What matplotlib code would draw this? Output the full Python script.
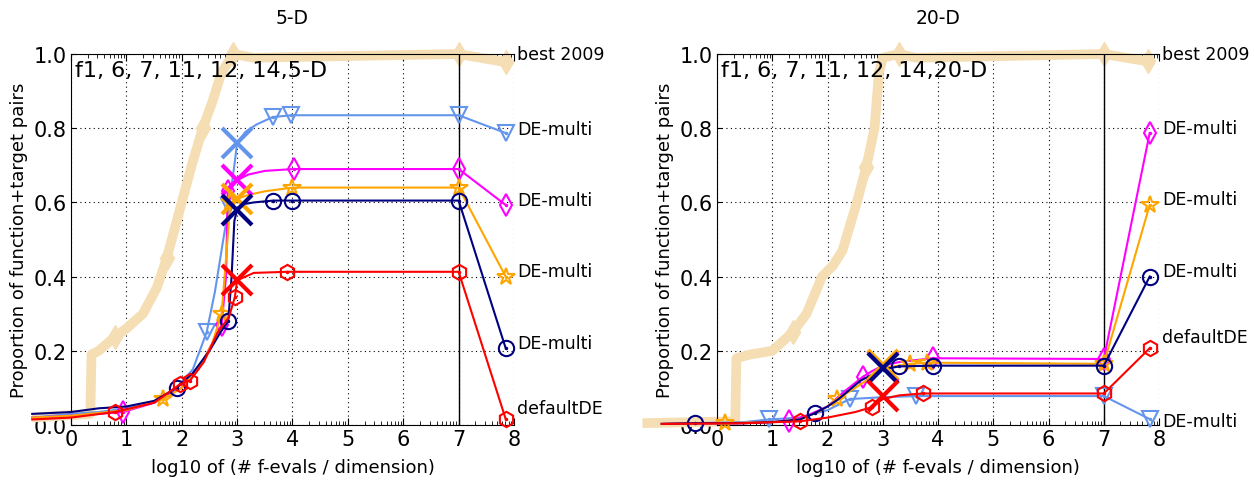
import numpy as np
import matplotlib
matplotlib.use('Agg')
import matplotlib.pyplot as plt

# series order: best 2009, then the four DE-multi variants, then defaultDE
names = ['best 2009', 'DE-multi', 'DE-multi', 'DE-multi', 'DE-multi', 'defaultDE']
colors = ['wheat', 'cornflowerblue', 'magenta', 'orange', 'navy', 'red']
markers = ['d', 'v', 'd', '*', 'o', 'h']

# ---- 5-D ----
best5_x = [-0.7, 0.35, 0.37, 0.5, 0.79, 1.0, 1.3, 1.55, 1.73, 2.0, 2.18, 2.38, 2.55, 2.72, 2.93, 3.3, 7.0, 7.85]
best5_y = [0.02, 0.03, 0.19, 0.2, 0.237, 0.26, 0.3, 0.37, 0.45, 0.6, 0.7, 0.8, 0.87, 0.95, 1.0, 0.99, 1.0, 0.978]
best5_m = [4, 8, 11, 14, 16, 17]

blue5_x = [-0.7, 0.0, 0.5, 1.0, 1.5, 1.9, 2.2, 2.45, 2.6, 2.75, 2.85, 2.95, 3.0, 3.15, 3.35, 3.64, 3.98, 7.0, 7.85]
blue5_y = [0.02, 0.03, 0.035, 0.045, 0.06, 0.1, 0.15, 0.25, 0.36, 0.5, 0.59, 0.7, 0.76, 0.79, 0.81, 0.83, 0.835, 0.835, 0.787]
blue5_m = [7, 10, 15, 16, 17, 18]

mag5_x = [-0.7, 0.0, 0.94, 1.5, 2.0, 2.3, 2.55, 2.72, 2.8, 2.83, 2.9, 3.0, 3.2, 3.5, 4.02, 7.0, 7.85]
mag5_y = [0.02, 0.025, 0.035, 0.06, 0.1, 0.15, 0.22, 0.27, 0.4, 0.63, 0.64, 0.66, 0.675, 0.685, 0.69, 0.69, 0.593]
mag5_m = [2, 7, 9, 14, 15, 16]

orng5_x = [-0.7, 0.0, 1.0, 1.67, 2.0, 2.3, 2.55, 2.72, 2.8, 2.88, 2.95, 3.0, 3.2, 3.5, 4.0, 7.0, 7.85]
orng5_y = [0.02, 0.025, 0.04, 0.07, 0.1, 0.15, 0.22, 0.3, 0.45, 0.6, 0.605, 0.61, 0.62, 0.63, 0.64, 0.64, 0.40]
orng5_m = [3, 7, 9, 14, 15, 16]

navy5_x = [-0.7, 0.0, 0.5, 1.0, 1.5, 1.91, 2.2, 2.5, 2.7, 2.84, 2.9, 2.95, 3.0, 3.1, 3.3, 3.65, 4.0, 7.0, 7.85]
navy5_y = [0.03, 0.035, 0.045, 0.05, 0.065, 0.1, 0.14, 0.2, 0.25, 0.28, 0.4, 0.55, 0.58, 0.595, 0.6, 0.605, 0.605, 0.605, 0.207]
navy5_m = [5, 9, 15, 16, 17, 18]

red5_x = [-0.7, 0.0, 0.79, 1.5, 1.97, 2.15, 2.4, 2.65, 2.85, 2.96, 3.0, 3.3, 3.9, 7.0, 7.85]
red5_y = [0.015, 0.02, 0.035, 0.06, 0.11, 0.12, 0.17, 0.25, 0.29, 0.345, 0.39, 0.41, 0.413, 0.413, 0.016]
red5_m = [2, 4, 5, 9, 12, 13, 14]

cross5_y = [0.76, 0.66, 0.61, 0.58, 0.39]
label5_y = [1.0, 0.798, 0.606, 0.415, 0.22, 0.046]

# ---- 20-D ----
best20_x = [-1.35, 0.33, 0.35, 0.6, 1.0, 1.37, 1.62, 1.9, 2.1, 2.27, 2.53, 2.7, 2.85, 2.93, 3.0, 3.29, 3.6, 7.0, 7.8]
best20_y = [0.005, 0.01, 0.18, 0.19, 0.2, 0.25, 0.3, 0.4, 0.43, 0.47, 0.6, 0.695, 0.8, 0.95, 0.99, 1.0, 0.99, 1.0, 0.98]
best20_m = [5, 11, 15, 17, 18]

blue20_x = [-1.0, 0.5, 0.94, 1.5, 2.0, 2.4, 3.0, 3.6, 7.0, 7.83]
blue20_y = [0.003, 0.008, 0.015, 0.02, 0.04, 0.07, 0.075, 0.078, 0.078, 0.016]
blue20_m = [2, 5, 7, 8, 9]

mag20_x = [-1.0, 0.5, 1.3, 1.7, 2.0, 2.3, 2.64, 2.8, 3.0, 3.3, 3.9, 7.0, 7.83]
mag20_y = [0.003, 0.005, 0.01, 0.03, 0.05, 0.09, 0.13, 0.145, 0.16, 0.17, 0.18, 0.178, 0.787]
mag20_m = [2, 6, 10, 11, 12]

orng20_x = [-1.0, 0.14, 1.0, 1.5, 1.9, 2.18, 2.5, 2.8, 3.0, 3.3, 3.5, 3.8, 7.0, 7.83]
orng20_y = [0.003, 0.005, 0.008, 0.015, 0.04, 0.07, 0.1, 0.13, 0.155, 0.16, 0.165, 0.168, 0.165, 0.593]
orng20_m = [1, 5, 10, 11, 12, 13]

navy20_x = [-1.0, -0.4, 0.5, 1.0, 1.5, 1.77, 2.0, 2.2, 2.6, 3.0, 3.3, 3.9, 7.0, 7.83]
navy20_y = [0.003, 0.005, 0.005, 0.008, 0.015, 0.032, 0.05, 0.07, 0.12, 0.15, 0.158, 0.16, 0.16, 0.40]
navy20_m = [1, 5, 10, 11, 12, 13]

red20_x = [-1.0, 0.5, 1.5, 2.0, 2.5, 2.8, 3.0, 3.3, 3.72, 7.0, 7.83]
red20_y = [0.003, 0.005, 0.01, 0.02, 0.035, 0.048, 0.07, 0.08, 0.085, 0.085, 0.207]
red20_m = [2, 5, 8, 9, 10]

cross20_y = [0.155, 0.158, 0.162, 0.155, 0.078]
label20_y = [1.0, 0.80, 0.61, 0.415, 0.237, 0.01]
label20_order = [0, 2, 3, 4, 5, 1]

panels = [
    ('5-D', 'f1, 6, 7, 11, 12, 14,5-D',
     [(best5_x, best5_y, best5_m), (blue5_x, blue5_y, blue5_m), (mag5_x, mag5_y, mag5_m),
      (orng5_x, orng5_y, orng5_m), (navy5_x, navy5_y, navy5_m), (red5_x, red5_y, red5_m)],
     cross5_y, label5_y, [0, 1, 2, 3, 4, 5]),
    ('20-D', 'f1, 6, 7, 11, 12, 14,20-D',
     [(best20_x, best20_y, best20_m), (blue20_x, blue20_y, blue20_m), (mag20_x, mag20_y, mag20_m),
      (orng20_x, orng20_y, orng20_m), (navy20_x, navy20_y, navy20_m), (red20_x, red20_y, red20_m)],
     cross20_y, label20_y, label20_order),
]

plt.rcParams['font.family'] = 'DejaVu Sans'
fig = plt.figure(figsize=(12.54, 4.81), dpi=100)
rects = [[0.0566, 0.1143, 0.3533, 0.7713], [0.5718, 0.1143, 0.3525, 0.7713]]

minor = [d + np.log10(k) for d in range(8) for k in range(2, 10)]

for rect, (title, fn_text, curves, crosses, lab_y, lab_order) in zip(rects, panels):
    ax = fig.add_axes(rect)
    ax.set_xlim(0, 8)
    ax.set_ylim(0, 1)
    ax.set_xticks(range(9))
    ax.set_xticks(minor, minor=True)
    ax.set_yticks([0, 0.2, 0.4, 0.6, 0.8, 1.0])
    ax.set_yticklabels(['0.0', '0.2', '0.4', '0.6', '0.8', '1.0'])
    ax.tick_params(axis='both', which='both', direction='in', top=True, right=False,
                   labelsize=15, pad=3)
    ax.tick_params(axis='x', which='major', length=5)
    ax.tick_params(axis='x', which='minor', length=3)
    ax.spines['right'].set_visible(False)
    ax.grid(True, which='major', color='k', linestyle=(0, (1, 3)), linewidth=0.8)
    ax.set_axisbelow(True)
    ax.axvline(7, color='k', linewidth=1, zorder=2)

    # best 2009 reference curve
    bx, by, bm = curves[0]
    ax.plot(bx, by, color=colors[0], linewidth=7, marker='d', markersize=12,
            markevery=bm, solid_capstyle='butt', clip_on=False, zorder=1)

    for i in range(1, 6):
        x, y, m = curves[i]
        ax.plot(x, y, color=colors[i], linewidth=1.5, marker=markers[i],
                markersize=11 if markers[i] != '*' else 13,
                markerfacecolor='none', markeredgecolor=colors[i], markeredgewidth=1.5,
                markevery=m, clip_on=False, zorder=3)
        ax.plot([x[j] for j in m], [y[j] for j in m], linestyle='none', marker='.',
                markersize=3, color=colors[i], clip_on=False, zorder=3)
        ax.plot([3.0], [crosses[i - 1]], marker='x', markersize=22, markeredgewidth=3,
                color=colors[i], linestyle='none', clip_on=False, zorder=4)

    for k, i in enumerate(lab_order):
        ax.text(8.05, lab_y[k], names[i], fontsize=12.5, ha='left', va='center')

    ax.text(0.01, 0.985, fn_text, transform=ax.transAxes, fontsize=16,
            ha='left', va='top', zorder=5)
    ax.set_title(title, fontsize=13.5, pad=22)
    ax.set_xlabel('log10 of (# f-evals / dimension)', fontsize=13, labelpad=6)
    ax.set_ylabel('Proportion of function+target pairs', fontsize=13, labelpad=4)

fig.savefig('out.png', dpi=100)
